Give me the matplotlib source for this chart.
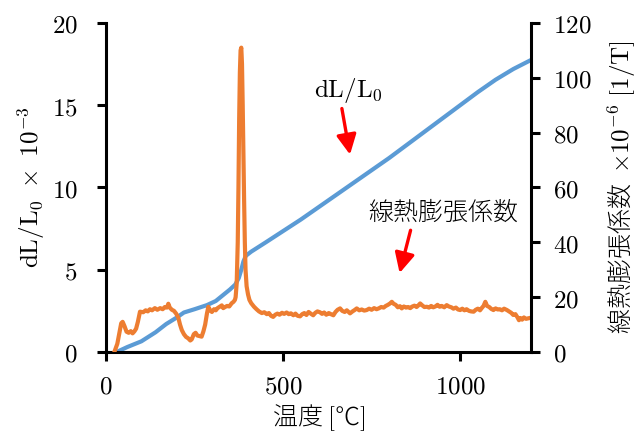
import matplotlib
matplotlib.use("Agg")
import matplotlib.pyplot as plt
from matplotlib.ticker import FuncFormatter

plt.rcParams["font.family"] = ["Noto Sans CJK JP", "DejaVu Sans"]
plt.rcParams["mathtext.fontset"] = "cm"

# dL/L0 (x10^-3) vs temperature
tempDl = [30, 60, 100, 140, 170, 200, 220, 250, 285, 310, 330, 350, 365, 375, 382, 388, 395,
          410, 450, 500, 550, 600, 650, 700, 750, 800, 850, 900, 950, 1000, 1050, 1100, 1150, 1200]
dl     = [0.0, 0.3, 0.65, 1.2, 1.7, 2.1, 2.4, 2.6, 2.85, 3.1, 3.45, 3.8, 4.1, 4.5, 5.0, 5.5, 5.85,
          6.1, 6.65, 7.35, 8.05, 8.8, 9.55, 10.3, 11.05, 11.8, 12.6, 13.4, 14.2, 15.0, 15.8, 16.55, 17.2, 17.75]

# coefficient of linear thermal expansion (x10^-6)
tempCte = [25, 32, 38, 43, 47, 52, 58, 64, 70, 75, 80, 85, 90, 96, 105, 112, 118, 124, 130, 138, 145,
           153, 160, 166, 172, 176, 180, 186, 192, 198, 204, 209, 214, 220, 226, 232, 238, 242, 248,
           253, 258, 264, 270, 275, 280, 285, 289, 294, 299, 305, 310, 315, 321, 327, 331, 336, 342,
           348, 355, 360, 364, 366, 369, 372, 374, 376, 378, 380, 382, 384, 386, 388, 390, 392, 394,
           397, 401, 405, 410, 418, 425, 432, 440, 447, 454, 460, 466, 472, 478, 484, 490, 497, 503,
           510, 516, 522, 529, 535, 541, 548, 554, 560, 566, 572, 578, 585, 591, 597, 604, 610, 616,
           622, 629, 635, 642, 648, 654, 661, 667, 674, 680, 689, 696, 702, 708, 715, 722, 729, 736,
           743, 750, 757, 764, 770, 777, 784, 790, 796, 802, 807, 812, 818, 824, 830, 835, 841, 847,
           853, 859, 865, 871, 877, 882, 887, 893, 899, 906, 912, 918, 924, 930, 936, 942, 948, 955,
           962, 968, 975, 981, 988, 994, 1000, 1006, 1012, 1018, 1025, 1031, 1038, 1044, 1050, 1056,
           1062, 1066, 1071, 1076, 1082, 1088, 1094, 1100, 1106, 1112, 1118, 1124, 1132, 1138, 1144,
           1150, 1156, 1162, 1166, 1170, 1175, 1180, 1186, 1193]
cte     = [0.5, 3, 7, 10.5, 11, 9.5, 7.4, 7, 7.6, 6.8, 7.5, 8.5, 11, 14.7, 14.5, 15.2, 14.8, 15.6, 15.2, 16, 15.4,
           16, 15.6, 16.4, 16.2, 17.6, 16.2, 15.4, 15, 14, 12.6, 10, 8, 6.5, 5.5, 5, 4.2, 4.6, 6.5,
           7, 6, 5.8, 5.6, 7.5, 10, 14, 16.5, 15.2, 14.6, 15.6, 15.2, 16, 16.5, 17, 16, 16.4, 16.8,
           16.6, 17.8, 18.3, 19, 20, 25, 40, 60, 85, 102, 110, 111, 105, 90, 72, 55, 40, 30,
           24, 21, 19, 17.8, 16.5, 15.6, 14.8, 14.2, 14.5, 13.8, 14.2, 13.2, 12.8, 13.6, 14, 13.6, 14.3, 13.9,
           14.4, 13.8, 14.1, 13.4, 14, 13.2, 13, 13.8, 14.2, 13.5, 14.6, 14, 13.4, 14.3, 14.8, 14.5, 13.9, 14.4,
           13.6, 14.2, 13.8, 13.4, 14.6, 15.4, 15.9, 15, 14.6, 15.2, 14.1, 14.8, 15.3, 15.9, 15.2, 15.5, 15.1, 15.3,
           15.8, 15.4, 16, 15.6, 15.9, 16.4, 16.2, 16.8, 17.2, 17.7, 18.3, 17.6, 17.2, 16.3, 16.7, 15.9, 16.6, 16.2,
           16.4, 16, 16.6, 16.9, 16.4, 17, 17.7, 17, 16.4, 16.5, 16.2, 16.8, 16.3, 16.6, 17.2, 16.5, 16.8, 16.3,
           17.1, 16.6, 16.3, 15.8, 16.2, 15.5, 15.3, 15.8, 15.2, 15.6, 15, 14.8, 14.7, 15.4, 15.8, 15.2,
           16.2, 16.8, 18.3, 16.8, 16.4, 15.7, 15.3, 15.9, 15.5, 15.6, 15.2, 15.8, 15.3, 14.8, 14.3,
           13.5, 13.8, 12.6, 11.6, 12.4, 11.8, 12.6, 12.1, 12.3]

blue = "#5B9BD5"
orange = "#ED7D31"
size = 18

fig = plt.figure(figsize=(6.37, 4.32), dpi=100)
ax = fig.add_axes([0.1664, 0.1852, 0.6672, 0.7616])
ax2 = ax.twinx()

ax.plot(tempDl, dl, color=blue, lw=3, solid_capstyle="butt")
ax2.plot(tempCte, cte, color=orange, lw=3, solid_joinstyle="round")

ax.set_xlim(0, 1200)
ax.set_ylim(0, 20)
ax2.set_ylim(0, 120)
ax.set_xticks([0, 500, 1000])
ax.set_yticks([0, 5, 10, 15, 20])
ax2.set_yticks([0, 20, 40, 60, 80, 100, 120])

mathFormat = FuncFormatter(lambda v, pos: "$%g$" % v)
ax.xaxis.set_major_formatter(mathFormat)
ax.yaxis.set_major_formatter(mathFormat)
ax2.yaxis.set_major_formatter(mathFormat)

for a in (ax, ax2):
    a.spines["top"].set_visible(False)
    for s in a.spines.values():
        s.set_linewidth(2.2)
    a.tick_params(direction="out", length=6.5, width=2.2, labelsize=size)
ax.spines["right"].set_visible(False)
ax2.spines["left"].set_visible(False)
ax2.spines["bottom"].set_visible(False)
ax.tick_params(axis="y", pad=14)
ax.tick_params(axis="x", pad=9)
ax2.tick_params(axis="y", pad=9)

ax.set_xlabel("温度 $\\mathrm{[}$℃$\\mathrm{]}$", fontsize=size, fontweight="light", labelpad=2)
ax.set_ylabel(r"$\mathrm{dL/L_0}\ \times\ \mathrm{10^{-3}}$", fontsize=size, labelpad=3)
ax2.set_ylabel(r"線熱膨張係数  $\times\mathrm{10^{-6}\ [1/T]}$", fontsize=size,
               fontweight="light", labelpad=10)

# Annotations.
ax.text(684, 15.9, r"$\mathrm{dL/L_0}$", fontsize=size, ha="center", va="center")
ax.annotate("", xy=(689, 12.0), xytext=(666, 14.8),
            arrowprops=dict(arrowstyle="-|>", color="red", lw=2.4, mutation_scale=30,
                            shrinkA=0, shrinkB=0))
ax.text(952, 8.45, "線熱膨張係数", fontsize=size, fontweight="light", ha="center", va="center")
ax.annotate("", xy=(829, 4.8), xytext=(860, 7.4),
            arrowprops=dict(arrowstyle="-|>", color="red", lw=2.4, mutation_scale=30,
                            shrinkA=0, shrinkB=0))

fig.savefig("out.png", dpi=100)
